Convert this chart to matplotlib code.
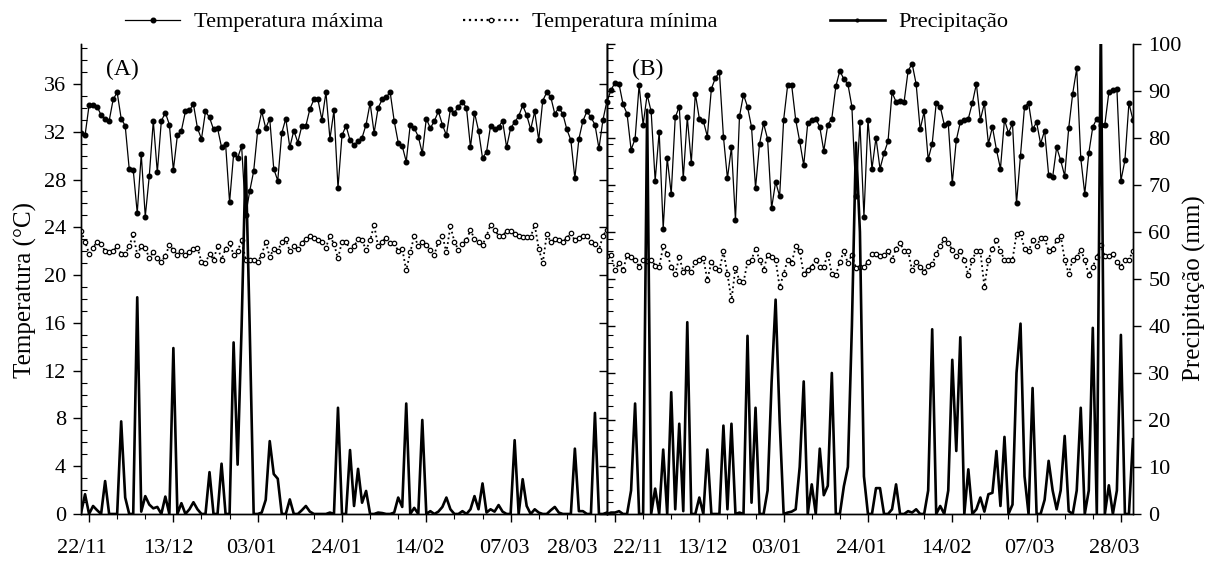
import pandas as pd
import matplotlib
matplotlib.use('Agg')
import matplotlib.pyplot as plt
import matplotlib.transforms as mtransforms
from matplotlib.lines import Line2D
from matplotlib.ticker import MultipleLocator, NullFormatter

plt.rcParams['font.family'] = ['Liberation Serif', 'DejaVu Serif']

# daily data, 20/11 to 31/03
dates = pd.date_range('2018-11-20', '2019-03-31', freq='D')
tick_dates = pd.date_range('2018-11-22', periods=7, freq='21D')
tick_labels = ['22/11', '13/12', '03/01', '24/01', '14/02', '07/03', '28/03']
minor_dates = pd.date_range('2018-11-22', '2019-03-31', freq='7D')

# panel A
tmax_a = [31.9, 31.7, 34.2, 34.2, 34.1, 33.4, 33.1, 32.9, 34.7, 35.3,
          33.1, 32.5, 28.9, 28.8, 25.2, 30.1, 24.9, 28.3, 32.9, 28.6,
          32.9, 33.6, 32.6, 28.8, 31.7, 32.1, 33.7, 33.8, 34.3, 32.3,
          31.4, 33.7, 33.2, 32.2, 32.3, 30.7, 31.0, 26.1, 30.1, 29.8,
          30.8, 25.0, 27.0, 28.7, 32.1, 33.7, 32.3, 33.1, 28.9, 27.9,
          31.9, 33.1, 30.7, 32.1, 31.1, 32.5, 32.5, 33.9, 34.7, 34.7,
          33.0, 35.3, 31.4, 33.8, 27.3, 31.7, 32.5, 31.3, 30.9, 31.2,
          31.5, 32.6, 34.4, 31.9, 34.0, 34.7, 34.9, 35.3, 32.9, 31.1,
          30.8, 29.5, 32.6, 32.3, 31.6, 30.2, 33.1, 32.3, 32.9, 33.7,
          32.6, 31.7, 33.9, 33.6, 34.1, 34.5, 34.0, 30.7, 33.6, 32.1,
          29.8, 30.3, 32.5, 32.2, 32.4, 32.9, 30.7, 32.3, 32.8, 33.3,
          34.2, 33.4, 32.2, 33.7, 31.3, 34.6, 35.3, 34.9, 33.5, 34.0,
          33.5, 32.2, 31.3, 28.1, 31.4, 32.9, 33.7, 33.2, 32.6, 30.6,
          33.0, 34.6]
tmin_a = [23.7, 22.8, 21.8, 22.3, 22.8, 22.6, 22.0, 21.9, 22.0, 22.4,
          21.8, 21.8, 22.4, 23.4, 21.7, 22.4, 22.3, 21.4, 21.9, 21.4,
          21.1, 21.6, 22.5, 22.1, 21.7, 22.0, 21.7, 21.9, 22.2, 22.3,
          21.1, 21.0, 21.8, 21.3, 22.4, 21.3, 22.2, 22.7, 21.7, 22.0,
          22.9, 21.3, 21.3, 21.3, 21.1, 21.7, 22.8, 21.5, 22.2, 22.0,
          22.8, 23.0, 22.0, 22.4, 22.2, 22.7, 23.0, 23.3, 23.1, 22.9,
          22.8, 22.3, 23.3, 22.6, 21.4, 22.8, 22.8, 22.1, 22.4, 23.0,
          22.9, 22.1, 22.9, 24.2, 22.4, 22.8, 23.1, 22.7, 22.7, 22.0,
          22.2, 20.4, 21.9, 23.3, 22.4, 22.8, 22.5, 22.1, 21.7, 22.8,
          23.3, 21.9, 24.1, 22.8, 22.1, 22.6, 22.9, 23.8, 23.0, 22.8,
          22.5, 23.3, 24.2, 23.8, 23.3, 23.3, 23.7, 23.7, 23.4, 23.3,
          23.2, 23.2, 23.2, 24.2, 22.2, 21.0, 23.4, 22.8, 23.0, 22.9,
          22.8, 23.1, 23.5, 22.9, 23.1, 23.3, 23.3, 22.8, 22.6, 22.1,
          23.3, 23.8]
prec_a = [0.2, 4.2, 0, 1.7, 0.8, 0, 7.0, 0, 0, 0,
          19.7, 3.5, 0, 0, 46.1, 0.5, 3.8, 2.0, 1.2, 1.5,
          0, 3.7, 0, 35.3, 0, 2.3, 0, 1.0, 2.5, 1.0,
          0, 0, 8.9, 0, 0, 10.7, 0, 0, 36.5, 10.5,
          40, 76, 40, 0, 0, 0.3, 3, 15.5, 8.5, 7.5,
          0, 0, 3.1, 0, 0, 0.8, 1.7, 0.5, 0, 0,
          0, 0, 0.3, 0, 22.6, 0, 0, 13.6, 1.7, 9.6,
          2.4, 4.9, 0, 0, 0.3, 0.2, 0, 0, 0.3, 3.5,
          1.5, 23.5, 0, 1.3, 0, 20, 0, 0.6, 0, 0.5,
          1.5, 3.5, 1.0, 0, 0, 0.6, 0, 1.0, 3.8, 1,
          6.5, 0.3, 1.0, 0.5, 1.9, 0.5, 0, 0, 15.7, 0,
          7.4, 1.7, 0, 1.0, 0.3, 0, 0, 0.8, 1.5, 0.3,
          0, 0, 0, 13.9, 0.6, 0.6, 0, 0, 21.5, 0,
          0, 0.3]

# panel B
tmax_b = [34.5, 35.5, 36.1, 36.0, 34.3, 33.5, 30.5, 31.4, 35.9, 32.6,
          35.1, 33.7, 27.9, 32.0, 23.9, 29.8, 26.8, 33.2, 34.1, 28.1,
          33.2, 29.4, 35.2, 33.1, 32.9, 31.6, 35.6, 36.5, 37.0, 31.6,
          28.1, 30.7, 24.6, 33.3, 35.1, 34.1, 32.4, 27.3, 31.0, 32.7,
          31.4, 25.6, 27.8, 26.6, 33.0, 35.9, 35.9, 33.0, 31.2, 29.2,
          32.7, 33.0, 33.1, 32.4, 30.4, 32.6, 33.1, 35.8, 37.1, 36.4,
          36.0, 34.1, 26.6, 32.8, 24.9, 33.0, 28.9, 31.5, 28.9, 30.2,
          31.2, 35.3, 34.5, 34.6, 34.5, 37.1, 37.7, 36.0, 32.2, 33.7,
          29.7, 31.0, 34.4, 34.1, 32.6, 32.7, 27.7, 31.3, 32.8, 33.0,
          33.1, 34.4, 36.0, 33.0, 34.4, 31.0, 32.4, 30.5, 28.9, 33.0,
          31.9, 32.7, 26.0, 30.0, 34.1, 34.4, 32.2, 32.8, 31.0, 32.1,
          28.4, 28.2, 30.7, 29.6, 28.3, 32.3, 35.2, 37.3, 29.8, 26.8,
          30.2, 32.4, 33.1, 32.6, 32.6, 35.3, 35.5, 35.6, 27.9, 29.6,
          34.4, 33.0]
tmin_b = [21.6, 21.7, 20.4, 21.0, 20.4, 21.7, 21.5, 21.3, 20.7, 21.3,
          21.2, 21.3, 20.8, 20.7, 22.4, 21.8, 20.7, 20.1, 21.5, 20.3,
          20.6, 20.3, 21.1, 21.3, 21.4, 19.6, 21.1, 20.6, 20.4, 22.0,
          20.1, 17.9, 20.6, 19.5, 19.4, 21.1, 21.3, 22.2, 21.3, 20.4,
          21.7, 21.5, 21.3, 19.0, 20.1, 21.3, 21.0, 22.4, 22.0, 20.1,
          20.4, 20.7, 21.3, 20.7, 20.7, 21.8, 20.1, 20.0, 21.1, 22.0,
          21.0, 21.7, 20.6, 20.7, 20.7, 21.1, 21.8, 21.8, 21.6, 21.7,
          22.0, 21.3, 22.2, 22.7, 22.0, 22.0, 20.4, 21.1, 20.7, 20.3,
          20.8, 20.9, 21.8, 22.4, 23.0, 22.7, 22.1, 21.6, 22.0, 21.3,
          20.0, 21.3, 22.0, 22.0, 19.0, 21.3, 22.2, 22.9, 22.0, 21.3,
          21.3, 21.3, 23.4, 23.5, 22.2, 22.0, 22.9, 22.4, 23.1, 23.1,
          22.0, 22.2, 22.9, 23.3, 21.3, 20.1, 21.3, 21.5, 22.1, 21.3,
          20.0, 20.7, 21.5, 22.5, 21.6, 21.6, 21.8, 21.1, 20.7, 21.3,
          21.3, 22.0]
prec_b = [0, 0.3, 0.3, 0.6, 0, 0, 5, 23.5, 0, 0,
          86, 0, 5.4, 0, 13.7, 0, 25.9, 1, 19.2, 0.6,
          40.8, 0, 0, 3.5, 0, 13.7, 0, 0, 0, 18.8,
          1, 19.2, 0, 0.3, 0, 37.9, 2.4, 22.6, 0, 0,
          5, 28, 45.6, 20, 0, 0.3, 0.5, 1, 10, 28.2,
          0, 6.3, 0, 13.9, 4, 6, 30, 0, 0, 5.9,
          10, 40, 79, 60, 8, 0, 0, 5.5, 5.5, 0,
          0, 1, 6.3, 0, 0, 0.6, 0.3, 1.0, 0, 0,
          5, 39.3, 0, 1.7, 0, 5, 32.8, 13.4, 37.6, 0,
          9.5, 0, 1, 3.5, 0.5, 4.2, 4.5, 13.4, 1.7, 16.4,
          0, 2, 30, 40.5, 8, 0, 26.8, 0, 0, 3,
          11.3, 5, 1, 5, 16.6, 0.6, 0, 5, 22.6, 0,
          5, 39.6, 0, 105, 0, 6.1, 0, 5, 38.1, 0,
          0, 15.9]

# label shifts in pixels, as in the original
shift_a = [-7, -5, -6, -6, -7, -6, -23]
shift_b = [23, 3, -7, -7, -6, -7, -7]

fig = plt.figure(figsize=(12.13, 5.65), dpi=100)
ax_a = fig.add_axes([0.0668, 0.0903, 0.4336, 0.8319])
ax_b = fig.add_axes([0.5004, 0.0903, 0.4336, 0.8319])


def draw_panel(ax, tmax, tmin, prec, letter, shifts, left_labels, right_labels):
    ax.plot(dates, tmax, color='black', lw=0.9, marker='o', ms=3.3, zorder=3)
    ax.plot(dates, tmin, color='black', lw=1.3, ls=':', marker='o', ms=3.2,
            mfc='white', mec='black', mew=0.9, zorder=3)
    ax.set_xlim(dates[0], dates[-1])
    ax.set_ylim(0, 39.35)
    ax.yaxis.set_major_locator(MultipleLocator(4))
    ax.yaxis.set_minor_locator(MultipleLocator(1))
    ax.tick_params(axis='y', which='major', direction='out', length=6,
                   width=1, labelsize=16, pad=5, labelleft=left_labels)
    ax.tick_params(axis='y', which='minor', direction='in', length=4, width=0.8)

    ax.set_xticks(tick_dates)
    ax.set_xticklabels(tick_labels)
    ax.set_xticks(minor_dates, minor=True)
    ax.xaxis.set_minor_formatter(NullFormatter())
    ax.tick_params(axis='x', which='major', direction='out', length=6,
                   width=1, labelsize=16, pad=12)
    ax.tick_params(axis='x', which='minor', direction='out', length=3.5, width=0.8)
    for lab, dx in zip(ax.get_xticklabels(), shifts):
        lab.set_transform(lab.get_transform() +
                          mtransforms.ScaledTranslation(dx / 100, 0, fig.dpi_scale_trans))

    ax2 = ax.twinx()
    ax2.plot(dates, prec, color='black', lw=1.9, zorder=4)
    ax2.set_ylim(0, 100)
    ax2.yaxis.set_major_locator(MultipleLocator(10))
    ax2.tick_params(axis='y', which='major', direction='out', length=6,
                    width=1, labelsize=16, pad=5, labelright=right_labels)
    for a in (ax, ax2):
        a.spines['top'].set_visible(False)
        for s in ('left', 'right', 'bottom'):
            a.spines[s].set_linewidth(1.0)

    ax.text(0.078, 0.945, letter, transform=ax.transAxes, fontsize=17,
            ha='center', va='center')
    return ax2


draw_panel(ax_a, tmax_a, tmin_a, prec_a, '(A)', shift_a, True, False)
draw_panel(ax_b, tmax_b, tmin_b, prec_b, '(B)', shift_b, False, True)

fig.text(0.021, 0.487, 'Temperatura (°C)', rotation=90, fontsize=18,
         ha='center', va='center')
fig.text(0.985, 0.49, 'Precipitação (mm)', rotation=90, fontsize=18,
         ha='center', va='center')

handles = [
    Line2D([], [], color='black', lw=0.9, marker='o', ms=3.3),
    Line2D([], [], color='black', lw=1.6, ls=':', marker='o', ms=3.2,
           mfc='white', mec='black', mew=0.9),
    Line2D([], [], color='black', lw=1.9, marker='o', ms=2),
]
names = ['Temperatura máxima', 'Temperatura mínima', 'Precipitação']
xs = [0.103, 0.3817, 0.684]
for h, n, x in zip(handles, names, xs):
    fig.legend([h], [n], loc='center left', bbox_to_anchor=(x, 0.961),
               frameon=False, fontsize=16, handlelength=2.5,
               handletextpad=0.6, borderpad=0, borderaxespad=0)

fig.savefig('out.png', dpi=100)
